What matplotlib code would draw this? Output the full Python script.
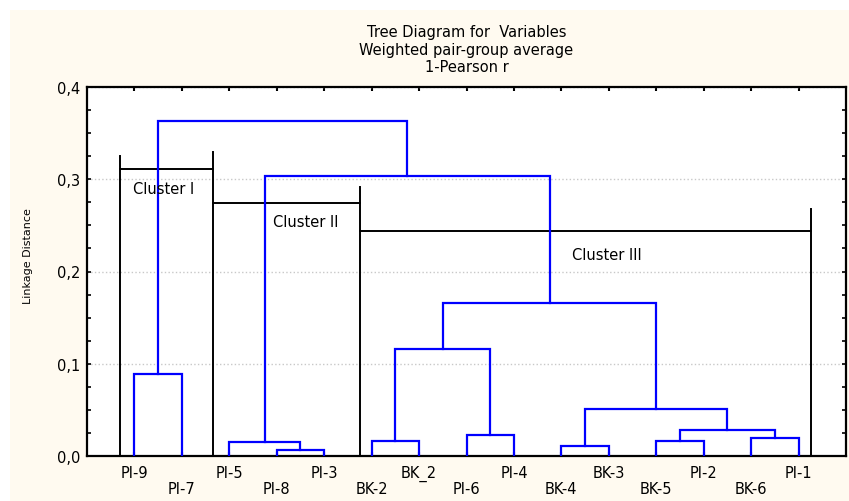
import matplotlib.pyplot as plt
from matplotlib.patches import Rectangle
from matplotlib.ticker import MultipleLocator, FixedLocator, FixedFormatter

# leaf order along the x axis
leaves = ["PI-9", "PI-7", "PI-5", "PI-8", "PI-3", "BK-2", "BK_2", "PI-6",
          "PI-4", "BK-4", "BK-3", "BK-5", "PI-2", "BK-6", "PI-1"]

# merges: (left node, right node, linkage distance); new nodes get ids 15, 16, ...
merges = [
    (3, 4, 0.007),
    (9, 10, 0.011),
    (2, 15, 0.015),
    (5, 6, 0.016),
    (11, 12, 0.016),
    (13, 14, 0.0195),
    (7, 8, 0.023),
    (19, 20, 0.0285),
    (16, 22, 0.0505),
    (0, 1, 0.089),
    (18, 21, 0.116),
    (25, 23, 0.166),
    (17, 26, 0.304),
    (24, 27, 0.363),
]

# hand drawn cluster brackets: (x, top) for verticals, (x0, x1, y) for horizontals
cluster_vlines = [(0.70, 0.325), (2.66, 0.329), (5.76, 0.292), (15.26, 0.268)]
cluster_hlines = [(0.70, 2.66, 0.311), (2.66, 5.76, 0.274), (5.76, 15.26, 0.244)]
cluster_names = ["Cluster I", "Cluster II", "Cluster III"]
cluster_text_pos = [(0.97, 0.2905), (3.92, 0.2547), (10.22, 0.2179)]

fig = plt.figure(figsize=(8.49, 5.02), dpi=100, facecolor="white")
fig.patches.append(Rectangle((10 / 849, 0), 1, 1 - 11 / 502, transform=fig.transFigure,
                             facecolor="#fffaf0", edgecolor="none", zorder=-10))
ax = fig.add_axes([87 / 849, 1 - 457 / 502, 759 / 849, 369 / 502])
ax.set_facecolor("white")

# dendrogram
xpos = {i: i + 1 for i in range(len(leaves))}
ypos = {i: 0.0 for i in range(len(leaves))}
for k, (a, b, h) in enumerate(merges):
    node = len(leaves) + k
    ax.plot([xpos[a], xpos[a], xpos[b], xpos[b]], [ypos[a], h, h, ypos[b]],
            color="#0000ff", lw=1.6, solid_joinstyle="miter", zorder=3)
    xpos[node] = (xpos[a] + xpos[b]) / 2
    ypos[node] = h

# cluster brackets
for x, top in cluster_vlines:
    ax.plot([x, x], [0, top], color="black", lw=1.4, zorder=2)
for x0, x1, y in cluster_hlines:
    ax.plot([x0, x1], [y, y], color="black", lw=1.4, zorder=2)
for name, (x, y) in zip(cluster_names, cluster_text_pos):
    ax.text(x, y, name, fontsize=10.5, ha="left", va="center", zorder=4)

ax.set_xlim(0, 16)
ax.set_ylim(0, 0.4)

# two rows of leaf labels
even = [i + 1 for i in range(0, len(leaves), 2)]
odd = [i + 1 for i in range(1, len(leaves), 2)]
ax.xaxis.set_major_locator(FixedLocator(even))
ax.xaxis.set_major_formatter(FixedFormatter(leaves[0::2]))
ax.xaxis.set_minor_locator(FixedLocator(odd))
ax.xaxis.set_minor_formatter(FixedFormatter(leaves[1::2]))
ax.tick_params(axis="x", which="major", pad=6.5, labelsize=10.5)
ax.tick_params(axis="x", which="minor", pad=18, labelsize=10.5)
ax.tick_params(axis="x", which="both", direction="in", length=3, width=1.5,
               top=True, bottom=True)

ax.yaxis.set_major_locator(MultipleLocator(0.1))
ax.yaxis.set_minor_locator(MultipleLocator(0.025))
ax.set_yticks([0, 0.1, 0.2, 0.3, 0.4])
ax.set_yticklabels(["0,0", "0,1", "0,2", "0,3", "0,4"])
ax.tick_params(axis="y", which="both", direction="in", length=3, width=1.2,
               left=True, right=True, labelsize=10.5, pad=5)

ax.yaxis.grid(True, which="major", linestyle=":", color="#c8c8c8", lw=1)
ax.set_axisbelow(True)
for s in ax.spines.values():
    s.set_linewidth(1.6)

ax.set_ylabel("Linkage Distance", fontsize=8)
ax.yaxis.set_label_coords(-0.071, 0.545)

cx = (87 + 759 / 2) / 849
fig.text(cx, 1 - 33 / 502, "Tree Diagram for  Variables", ha="center", va="center", fontsize=10.5)
fig.text(cx, 1 - 51 / 502, "Weighted pair-group average", ha="center", va="center", fontsize=10.5)
fig.text(cx, 1 - 68 / 502, "1-Pearson r", ha="center", va="center", fontsize=10.5)

fig.savefig("out.png", dpi=100, facecolor=fig.get_facecolor())
